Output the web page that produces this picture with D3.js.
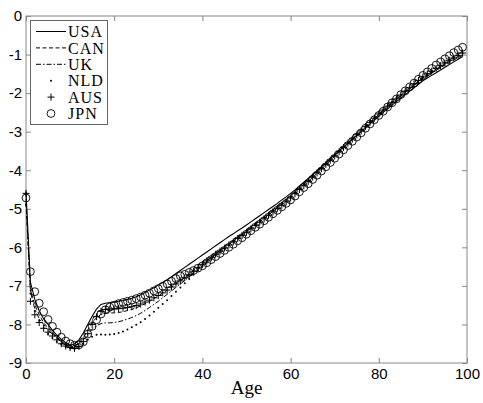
<!DOCTYPE html>
<html>
<head>
<meta charset="utf-8">
<script src="https://cdn.jsdelivr.net/npm/d3@7"></script>
<style>
body { margin: 0; background: #fff; }
</style>
</head>
<body>
<svg width="483" height="403"></svg>
<script>
(function(d3) {
    "use strict";

var ages = d3.range(0, 100);

var usa = [-4.55, -6.90, -7.35, -7.65, -7.85, -8.00, -8.15, -8.28, -8.38, -8.47,
    -8.54, -8.50, -8.40, -8.22, -8.00, -7.79, -7.60, -7.48, -7.45, -7.43,
    -7.42, -7.40, -7.38, -7.35, -7.32, -7.28, -7.23, -7.17, -7.11, -7.05,
    -6.98, -6.91, -6.84, -6.76, -6.68, -6.60, -6.52, -6.44, -6.36, -6.28,
    -6.20, -6.12, -6.04, -5.96, -5.88, -5.80, -5.72, -5.65, -5.57, -5.50,
    -5.42, -5.34, -5.26, -5.18, -5.10, -5.02, -4.94, -4.86, -4.77, -4.69,
    -4.60, -4.51, -4.41, -4.31, -4.21, -4.11, -4.01, -3.91, -3.81, -3.70,
    -3.60, -3.50, -3.40, -3.30, -3.20, -3.10, -3.00, -2.90, -2.80, -2.70,
    -2.60, -2.50, -2.41, -2.31, -2.22, -2.13, -2.04, -1.95, -1.86, -1.77,
    -1.68, -1.61, -1.54, -1.47, -1.40, -1.33, -1.26, -1.19, -1.12, -1.05];

var can = [-4.85, -7.10, -7.50, -7.75, -7.95, -8.10, -8.22, -8.33, -8.42, -8.50,
    -8.55, -8.55, -8.48, -8.35, -8.15, -7.96, -7.82, -7.74, -7.71, -7.70,
    -7.70, -7.69, -7.67, -7.64, -7.61, -7.57, -7.52, -7.46, -7.40, -7.33,
    -7.26, -7.19, -7.11, -7.03, -6.95, -6.87, -6.79, -6.70, -6.61, -6.52,
    -6.43, -6.34, -6.26, -6.17, -6.09, -6.01, -5.93, -5.85, -5.76, -5.68,
    -5.60, -5.51, -5.42, -5.34, -5.25, -5.16, -5.07, -4.98, -4.89, -4.80,
    -4.71, -4.61, -4.51, -4.40, -4.30, -4.19, -4.08, -3.97, -3.86, -3.75,
    -3.64, -3.53, -3.42, -3.31, -3.21, -3.10, -2.99, -2.88, -2.77, -2.67,
    -2.56, -2.46, -2.36, -2.27, -2.17, -2.08, -1.98, -1.89, -1.80, -1.71,
    -1.62, -1.55, -1.48, -1.41, -1.34, -1.27, -1.21, -1.14, -1.08, -1.02];

var uk = [-4.75, -7.15, -7.60, -7.85, -8.00, -8.15, -8.25, -8.35, -8.45, -8.52,
    -8.57, -8.57, -8.50, -8.40, -8.26, -8.12, -8.03, -7.98, -7.96, -7.96,
    -7.95, -7.93, -7.90, -7.86, -7.82, -7.77, -7.71, -7.64, -7.56, -7.48,
    -7.40, -7.31, -7.22, -7.13, -7.04, -6.95, -6.86, -6.76, -6.66, -6.56,
    -6.46, -6.36, -6.27, -6.18, -6.09, -6.00, -5.92, -5.83, -5.74, -5.66,
    -5.57, -5.48, -5.39, -5.30, -5.21, -5.12, -5.03, -4.94, -4.85, -4.76,
    -4.67, -4.57, -4.47, -4.36, -4.26, -4.15, -4.04, -3.93, -3.83, -3.72,
    -3.61, -3.50, -3.40, -3.29, -3.18, -3.08, -2.97, -2.86, -2.75, -2.65,
    -2.54, -2.44, -2.34, -2.24, -2.15, -2.05, -1.96, -1.87, -1.78, -1.69,
    -1.60, -1.52, -1.45, -1.38, -1.31, -1.24, -1.18, -1.11, -1.05, -0.99];

var nld = [-4.90, -7.20, -7.65, -7.90, -8.10, -8.25, -8.35, -8.45, -8.52, -8.58,
    -8.62, -8.62, -8.58, -8.50, -8.40, -8.32, -8.27, -8.26, -8.27, -8.26,
    -8.25, -8.22, -8.18, -8.13, -8.07, -8.01, -7.94, -7.86, -7.77, -7.67,
    -7.57, -7.47, -7.37, -7.26, -7.15, -7.04, -6.93, -6.82, -6.71, -6.60,
    -6.49, -6.39, -6.30, -6.21, -6.12, -6.03, -5.94, -5.85, -5.76, -5.67,
    -5.58, -5.49, -5.40, -5.31, -5.22, -5.13, -5.04, -4.95, -4.86, -4.77,
    -4.68, -4.58, -4.48, -4.37, -4.27, -4.16, -4.05, -3.94, -3.83, -3.72,
    -3.61, -3.50, -3.39, -3.28, -3.17, -3.06, -2.96, -2.85, -2.74, -2.63,
    -2.53, -2.43, -2.33, -2.23, -2.13, -2.04, -1.94, -1.85, -1.76, -1.67,
    -1.58, -1.50, -1.42, -1.35, -1.28, -1.21, -1.14, -1.08, -1.02, -0.96];

var aus = [-4.60, -7.40, -7.75, -7.95, -8.10, -8.20, -8.30, -8.40, -8.50, -8.56,
    -8.60, -8.62, -8.57, -8.44, -8.24, -8.00, -7.80, -7.66, -7.61, -7.60,
    -7.60, -7.59, -7.58, -7.56, -7.54, -7.51, -7.47, -7.42, -7.37, -7.31,
    -7.25, -7.18, -7.11, -7.03, -6.95, -6.87, -6.79, -6.71, -6.62, -6.53,
    -6.44, -6.35, -6.27, -6.18, -6.10, -6.02, -5.94, -5.86, -5.77, -5.69,
    -5.61, -5.52, -5.43, -5.35, -5.26, -5.17, -5.08, -4.99, -4.91, -4.82,
    -4.72, -4.61, -4.50, -4.40, -4.29, -4.18, -4.07, -3.96, -3.85, -3.74,
    -3.63, -3.52, -3.41, -3.30, -3.19, -3.08, -2.98, -2.87, -2.76, -2.65,
    -2.54, -2.44, -2.34, -2.24, -2.15, -2.05, -1.95, -1.86, -1.76, -1.67,
    -1.58, -1.50, -1.43, -1.36, -1.29, -1.22, -1.15, -1.09, -1.02, -0.96];

var jpn = [-4.72, -6.63, -7.15, -7.45, -7.67, -7.87, -8.05, -8.20, -8.33, -8.43,
    -8.50, -8.54, -8.53, -8.45, -8.25, -8.05, -7.88, -7.73, -7.62, -7.55,
    -7.50, -7.46, -7.43, -7.40, -7.37, -7.33, -7.29, -7.24, -7.19, -7.13,
    -7.07, -7.01, -6.95, -6.88, -6.81, -6.74, -6.70, -6.65, -6.60, -6.54,
    -6.48, -6.40, -6.32, -6.24, -6.16, -6.08, -6.00, -5.92, -5.83, -5.75,
    -5.66, -5.57, -5.48, -5.40, -5.31, -5.22, -5.13, -5.04, -4.95, -4.86,
    -4.77, -4.67, -4.56, -4.45, -4.35, -4.24, -4.13, -4.02, -3.91, -3.80,
    -3.69, -3.58, -3.47, -3.36, -3.25, -3.14, -3.03, -2.91, -2.80, -2.69,
    -2.58, -2.47, -2.36, -2.25, -2.15, -2.04, -1.94, -1.84, -1.74, -1.64,
    -1.54, -1.45, -1.36, -1.27, -1.19, -1.11, -1.03, -0.95, -0.88, -0.81];

var xTicks = [0, 20, 40, 60, 80, 100],
    yTicks = [0, -1, -2, -3, -4, -5, -6, -7, -8, -9],
    names = ["USA", "CAN", "UK", "NLD", "AUS", "JPN"];

var svg = d3.select("svg"),
    left = 26, right = 467, top = 16, bottom = 363,
    x = d3.scaleLinear().domain([0, 100]).range([left, right]),
    y = d3.scaleLinear().domain([-9, 0]).range([bottom, top]),
    axisColor = "#888";

var line = d3.line()
    .x(function(d, i) { return x(ages[i]); })
    .y(function(d) { return y(d); });

function styleAxis(g) {
    g.selectAll(".domain").remove();
    g.selectAll(".tick line").attr("stroke", axisColor);
    g.selectAll(".tick text")
        .attr("fill", "#000")
        .attr("font-family", "Liberation Sans, Arial, sans-serif")
        .attr("font-size", 15);
}

svg.append("g")
    .attr("transform", "translate(0," + bottom + ")")
    .call(d3.axisBottom(x).tickValues(xTicks).tickSize(-5).tickPadding(5))
    .call(styleAxis);

svg.append("g")
    .attr("transform", "translate(0," + top + ")")
    .call(d3.axisTop(x).tickValues(xTicks).tickSize(-5).tickFormat(""))
    .call(styleAxis);

svg.append("g")
    .attr("transform", "translate(" + left + ",0)")
    .call(d3.axisLeft(y).tickValues(yTicks).tickSize(-5).tickPadding(4)
        .tickFormat(function(d) { return d < 0 ? "-" + (-d) : d; }))
    .call(styleAxis);

svg.append("g")
    .attr("transform", "translate(" + right + ",0)")
    .call(d3.axisRight(y).tickValues(yTicks).tickSize(-5).tickFormat(""))
    .call(styleAxis);

svg.append("rect")
    .attr("x", left)
    .attr("y", top)
    .attr("width", right - left)
    .attr("height", bottom - top)
    .attr("fill", "none")
    .attr("stroke", axisColor);

var plot = svg.append("g");

plot.append("path")
    .attr("fill", "none")
    .attr("stroke", "#000")
    .attr("stroke-width", 1.1)
    .attr("d", line(usa));

plot.append("path")
    .attr("fill", "none")
    .attr("stroke", "#000")
    .attr("stroke-dasharray", "4,2.5")
    .attr("d", line(can));

plot.append("path")
    .attr("fill", "none")
    .attr("stroke", "#000")
    .attr("stroke-dasharray", "5,2,1.5,2")
    .attr("d", line(uk));

plot.selectAll(".nld")
    .data(nld)
    .enter().append("circle")
    .attr("cx", function(d, i) { return x(ages[i]); })
    .attr("cy", function(d) { return y(d); })
    .attr("r", 1)
    .attr("fill", "#000");

var plus = "M-3.5,0H3.5M0,-3.5V3.5";

plot.selectAll(".aus")
    .data(aus)
    .enter().append("path")
    .attr("transform", function(d, i) { return "translate(" + x(ages[i]) + "," + y(d) + ")"; })
    .attr("d", plus)
    .attr("fill", "none")
    .attr("stroke", "#000");

plot.selectAll(".jpn")
    .data(jpn)
    .enter().append("circle")
    .attr("cx", function(d, i) { return x(ages[i]); })
    .attr("cy", function(d) { return y(d); })
    .attr("r", 3.9)
    .attr("fill", "none")
    .attr("stroke", "#000")
    .attr("stroke-width", 0.9);

// legend
var legend = svg.append("g");

legend.append("rect")
    .attr("x", 30.5)
    .attr("y", 20.5)
    .attr("width", 77)
    .attr("height", 104)
    .attr("fill", "#fff")
    .attr("stroke", "#666");

var rows = legend.selectAll(".row")
    .data(names)
    .enter().append("g")
    .attr("transform", function(d, i) { return "translate(0," + (31.5 + i * 16.4) + ")"; });

rows.append("text")
    .attr("x", 68)
    .attr("dy", "0.35em")
    .attr("font-family", "Liberation Serif, Times New Roman, serif")
    .attr("font-size", 16)
    .attr("letter-spacing", 1)
    .text(function(d) { return d; });

rows.filter(function(d, i) { return i < 3; })
    .append("line")
    .attr("x1", 36)
    .attr("x2", 66)
    .attr("stroke", "#000")
    .attr("stroke-dasharray", function(d, i) { return [null, "4,2.5", "5,2,1.5,2"][i]; });

rows.filter(function(d) { return d === "NLD"; })
    .append("circle")
    .attr("cx", 51)
    .attr("r", 1)
    .attr("fill", "#000");

rows.filter(function(d) { return d === "AUS"; })
    .append("path")
    .attr("transform", "translate(51,0)")
    .attr("d", plus)
    .attr("stroke", "#000");

rows.filter(function(d) { return d === "JPN"; })
    .append("circle")
    .attr("cx", 51)
    .attr("r", 3.9)
    .attr("fill", "none")
    .attr("stroke", "#000")
    .attr("stroke-width", 0.9);

svg.append("text")
    .attr("x", (left + right) / 2)
    .attr("y", 394)
    .attr("text-anchor", "middle")
    .attr("font-family", "Liberation Serif, Times New Roman, serif")
    .attr("font-size", 19)
    .text("Age");

}(d3));
</script>
</body>
</html>
